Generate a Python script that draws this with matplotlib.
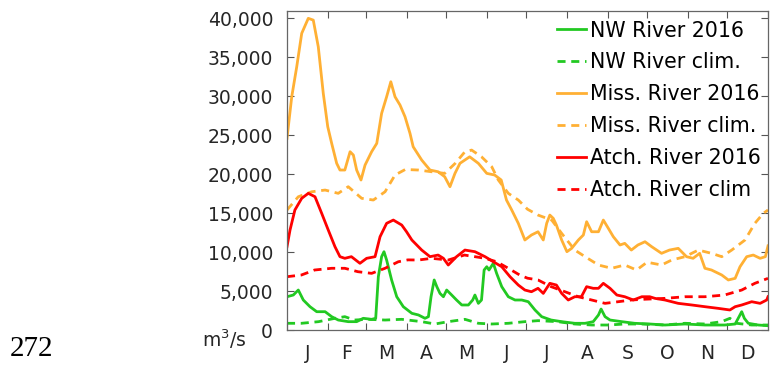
import numpy as np
import matplotlib.pyplot as plt
from matplotlib.ticker import FuncFormatter

# daily discharge (day of year 2016, m3/s)
miss_day = [0, 3.6, 7.4, 11.2, 16.2, 20, 23.8, 27.6, 31, 34, 37.8, 40.3, 44, 48, 50.5, 53, 56.3, 59.4,
            64.4, 68.3, 72, 75.8, 79, 82.2, 86, 89.8, 93.6, 96, 102.5, 108.8, 115, 120, 124, 127.8, 131.6,
            139, 145.6, 152, 158, 163, 167, 171, 176, 181, 186, 191, 195, 197.6, 200, 202.6, 205, 209, 213,
            216.6, 221.7, 225.5, 228, 231.8, 237, 240.7, 244.5, 248.3, 253.4, 257, 262, 267, 272.4, 277.5,
            285, 291, 297.7, 304, 309, 314, 318, 323, 330.8, 335.8, 341, 344.7, 349.8, 354.8, 360, 364, 366]
miss_2016 = [24600, 29930, 33780, 38070, 40000, 39770, 36350, 30370, 26090, 23950, 21390, 20530, 20530,
             22880, 22450, 20530, 19250, 21170, 22880, 23950, 27800, 29930, 31860, 29930, 28870, 27370,
             25230, 23520, 21810, 20530, 20310, 19670, 18390, 20100, 21390, 22230, 21390, 20100, 19890,
             19250, 16680, 15400, 13690, 11550, 12190, 12610, 11550, 13690, 14750, 14330, 13470, 11550,
             10050, 10480, 11550, 12190, 13900, 12610, 12610, 14110, 13050, 11970, 10910, 11120, 10260,
             10910, 11330, 10690, 9840, 10260, 10480, 9410, 9200, 9840, 7920, 7700, 7060, 6420, 6630,
             8120, 9410, 9620, 9200, 9410, 10800]

missc_day = [0, 8.6, 18.8, 29, 39, 46.6, 56.8, 65.7, 74.6, 82.2, 90, 100, 110, 120, 128, 135.4, 140.5,
             148, 155.8, 160.8, 168.4, 176, 183, 191, 201.4, 209, 219, 226.8, 237, 247, 257, 266, 274,
             285, 292.7, 302.8, 313, 323, 330.8, 338.4, 348.5, 356, 362.4, 366]
miss_clim = [15400, 17100, 17740, 17960, 17540, 18390, 16900, 16680, 17740, 19890, 20600, 20530, 20310,
             20100, 21390, 22880, 23090, 22230, 20950, 19250, 17540, 16680, 15500, 14750, 14110, 12400,
             10260, 9410, 8340, 7920, 8340, 7700, 8700, 8340, 8980, 9410, 10260, 9840, 9410, 10260,
             11550, 13690, 14970, 15400]

atch_day = [0, 2.3, 6, 11.2, 16.2, 21.3, 26.4, 31.4, 36.5, 40.3, 44, 49, 55.5, 60.6, 67, 70.8, 75.8,
            80.9, 87.3, 91, 95, 102.5, 108.8, 115, 119, 122.7, 129, 135.4, 143, 150.7, 157, 163.4, 169.7,
            176, 181, 186, 191, 195, 200, 205, 209, 214, 219, 224, 228, 233, 237, 240.7, 245.8, 251, 257,
            263.5, 270, 276, 280, 287.6, 297.7, 308, 318, 328, 337, 341, 346, 353.6, 360, 365, 366]
atch_2016 = [10690, 12830, 15400, 16900, 17540, 17100, 14970, 12830, 10690, 9410, 9200, 9410, 8560, 9200,
             9410, 11970, 13690, 14110, 13470, 12600, 11550, 10260, 9410, 9620, 9200, 8340, 9410, 10260,
             10050, 9410, 8760, 8120, 6840, 5770, 5130, 4910, 5350, 4700, 5990, 5770, 4700, 3850, 4270,
             4270, 5560, 5350, 5350, 5990, 5350, 4490, 4270, 3850, 4270, 4270, 4060, 3850, 3420, 3210,
             2990, 2780, 2570, 2990, 3210, 3630, 3420, 3850, 4270]

atchc_day = [0, 11, 21, 34, 44, 54, 64.4, 74.6, 84.7, 92, 100, 110, 122.7, 135, 143, 150.7, 159.5,
             168.4, 177, 183, 191, 201, 211.5, 221.7, 231.8, 242, 252, 262, 272.4, 287.6, 302.8, 318,
             333, 346, 356, 366]
atch_clim = [6840, 7060, 7700, 7920, 7920, 7480, 7270, 7920, 8760, 9000, 8980, 9200, 8980, 9620, 9410,
             9200, 8760, 7920, 7060, 6650, 6420, 5560, 4910, 4270, 3850, 3420, 3630, 3850, 3950, 4060,
             4270, 4270, 4490, 5130, 5990, 6630]

nw_day = [0, 4.8, 8.6, 12.4, 17.5, 22.6, 29, 34, 39, 46.6, 53, 58, 64.4, 67.5, 69.5, 72, 73.8, 75.8,
          79.6, 83.5, 88.5, 95, 100, 105, 107.6, 109.6, 112, 114, 116.4, 119, 121.5, 125.3, 129, 133,
          138, 141.3, 143, 145.6, 148, 150, 152, 153.7, 157, 159.5, 163.4, 168.4, 173.5, 178.6, 183.6,
          188.7, 193.8, 201, 209, 219, 226.8, 233, 237, 239, 242, 245.8, 254.7, 264.5, 276, 287.6,
          302.8, 318, 333, 341, 344, 346, 348, 351, 358.6, 366]
nw_2016 = [4270, 4490, 5130, 3850, 2990, 2350, 2350, 1710, 1280, 1070, 1070, 1500, 1370, 1500, 6840,
           9410, 10050, 8980, 6420, 4270, 2990, 2140, 1930, 1500, 1710, 4270, 6420, 5560, 4700, 4270,
           5130, 4490, 3850, 3210, 3210, 3850, 4490, 3420, 3850, 7700, 8120, 7700, 8560, 7270, 5560,
           4270, 3850, 3850, 3630, 2570, 1710, 1280, 1070, 860, 860, 1070, 1930, 2690, 1710, 1280,
           1070, 860, 770, 640, 770, 640, 640, 770, 1710, 2350, 1500, 860, 640, 550]

nwc_day = [0, 11, 24, 36.5, 44, 51.3, 61.5, 74.6, 87.3, 102.5, 112.6, 122.7, 135.4, 145.6, 155.8,
           168.4, 181, 191, 206, 219, 232, 244.5, 257, 270, 287.6, 302.8, 318, 330.8, 337, 342,
           353.6, 366]
nw_clim = [860, 860, 1070, 1500, 1710, 1280, 1370, 1280, 1370, 1070, 770, 1070, 1370, 860, 770, 860,
           1070, 1200, 1070, 770, 640, 640, 770, 770, 640, 860, 770, 1070, 1500, 860, 640, 640]

month_start = [0, 31, 60, 91, 121, 152, 182, 213, 244, 274, 305, 335, 366]
month_letters = ['J', 'F', 'M', 'A', 'M', 'J', 'J', 'A', 'S', 'O', 'N', 'D']

green = '#22c922'
orange = '#ffb034'
red = '#ff0000'
dash = (0, (2.9, 2.05))

fig = plt.figure(figsize=(7.71, 3.65), dpi=100)
ax = fig.add_axes([287/771, 35/365, 481/771, 319/365])

ax.plot(nw_day, nw_2016, color=green, lw=2, label='NW River 2016')
ax.plot(nwc_day, nw_clim, color=green, lw=2, ls=dash, label='NW River clim.')
ax.plot(miss_day, miss_2016, color=orange, lw=2, label='Miss. River 2016')
ax.plot(missc_day, miss_clim, color=orange, lw=2, ls=dash, label='Miss. River clim.')
ax.plot(atch_day, atch_2016, color=red, lw=2, label='Atch. River 2016')
ax.plot(atchc_day, atch_clim, color=red, lw=2, ls=dash, label='Atch. River clim')

ax.set_xlim(0, 366)
ax.set_ylim(0, 40940)
ax.set_yticks(np.arange(0, 40001, 5000))
ax.yaxis.set_major_formatter(FuncFormatter(lambda v, p: f'{int(v):,}'))

mids = [(month_start[i] + month_start[i + 1]) / 2 for i in range(12)]
ax.set_xticks(month_start)
ax.set_xticklabels([])
ax.set_xticks(mids, minor=True)
ax.set_xticklabels(month_letters, minor=True)

ax.tick_params(which='both', direction='in', top=True, right=True, colors='#555555',
               labelcolor='#262626', labelsize=13.5)
ax.tick_params(which='major', length=5, width=0.8)
ax.tick_params(axis='y', pad=10)
ax.tick_params(axis='x', which='minor', length=0, pad=10)
for s in ax.spines.values():
    s.set_color('#666666')
    s.set_linewidth(0.9)

ax.legend(loc='upper left', bbox_to_anchor=(0.561, 0.97), frameon=False, fontsize=14.8,
          borderpad=0, borderaxespad=0, handlelength=1.4, handletextpad=0.2, labelspacing=0.58)

fig.text(202/771, 18/365, 'm$^3$/s', fontsize=13.5, color='#262626', va='baseline')
fig.text(10/771, 9/365, '272', fontsize=21, family='Liberation Serif', va='baseline')

fig.savefig('out.png', dpi=100)
